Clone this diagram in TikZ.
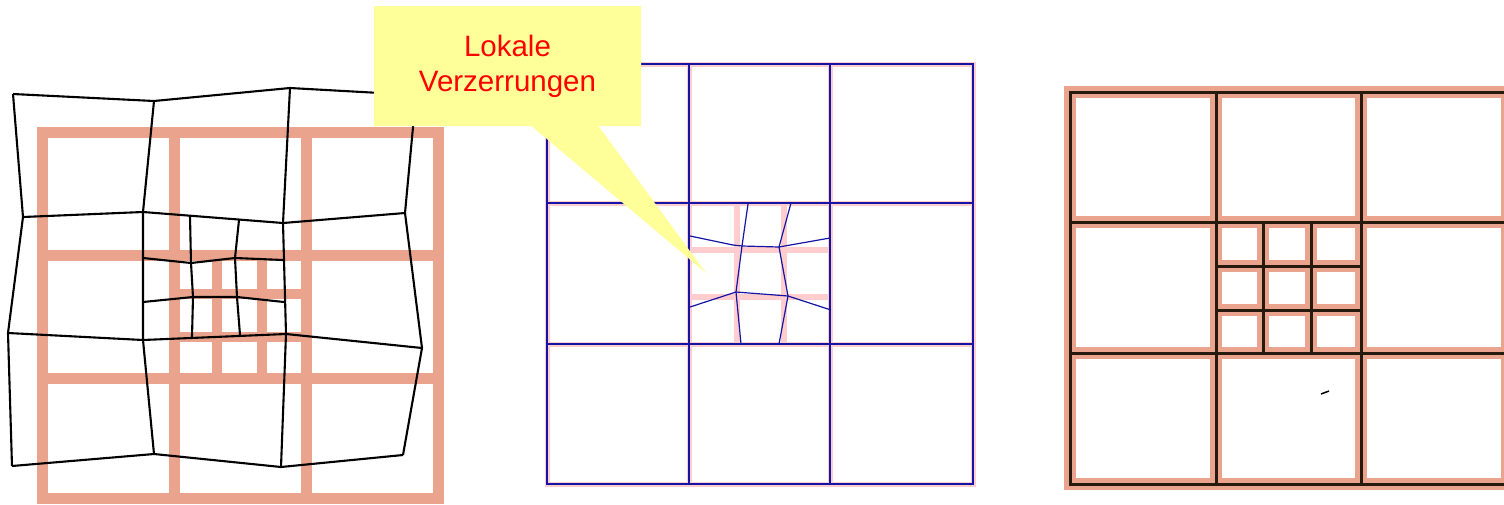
\documentclass[tikz,border=0pt]{standalone}
\usepackage{fontspec}
\setmainfont{Liberation Sans}
\usetikzlibrary{shapes.callouts}
\definecolor{lachs}{RGB}{234,164,142}
\definecolor{rosa}{RGB}{255,205,205}
\definecolor{tinte}{RGB}{20,20,165}
\definecolor{notiz}{RGB}{255,255,153}
\begin{document}
\begin{tikzpicture}
         [x=1pt, y=-1pt,
          soll/.style={draw=lachs, line width=11pt, line cap=rect},
          netz/.style={draw=black, line width=2.1pt, line join=round},
          hell/.style={draw=rosa, line width=5pt},
          blau/.style={draw=tinte, line width=1.8pt},
          fein/.style={draw=tinte, line width=1.2pt, line join=round},
          kante/.style={draw=lachs, line width=12pt, line cap=rect},
          dick/.style={draw=black!80!brown, line width=3pt}]
         \useasboundingbox (0,0) rectangle (1504,504);

         % links
         \draw[soll] (42,132) rectangle (438,498) (174,132) -- (174,498) (306,132) -- (306,498)
                     (42,255) -- (438,255) (42,378) -- (438,378);
         \draw[soll, line width=10pt] (217,255) -- (217,378) (262,255) -- (262,378)
                     (174,294) -- (306,294) (174,337) -- (306,337);

         \coordinate (p00) at (13,94);  \coordinate (p10) at (154,101); \coordinate (p20) at (290,88);  \coordinate (p30) at (416,95);
         \coordinate (p01) at (23,217); \coordinate (p11) at (143,212); \coordinate (p21) at (283,223); \coordinate (p31) at (405,213);
         \coordinate (p02) at (8,333);  \coordinate (p12) at (143,340); \coordinate (p22) at (286,334); \coordinate (p32) at (422,348);
         \coordinate (p03) at (12,466); \coordinate (p13) at (154,454); \coordinate (p23) at (281,467); \coordinate (p33) at (403,455);
         \coordinate (t1) at (190,216); \coordinate (a1) at (191,263); \coordinate (b1) at (193,297); \coordinate (u1) at (192,337);
         \coordinate (t2) at (239,220); \coordinate (a2) at (235,258); \coordinate (b2) at (237,297); \coordinate (u2) at (240,335);
         \coordinate (al) at (143,258); \coordinate (ar) at (283,260); \coordinate (bl) at (143,302); \coordinate (br) at (284,302);

         \draw[netz] (p00) -- (p10) -- (p20) -- (p30);
         \draw[netz] (p01) -- (p11) -- (p21) -- (p31);
         \draw[netz] (p02) -- (p12) -- (p22) -- (p32);
         \draw[netz] (p03) -- (p13) -- (p23) -- (p33);
         \draw[netz] (p00) -- (p01) -- (p02) -- (p03);
         \draw[netz] (p10) -- (p11) -- (p12) -- (p13);
         \draw[netz] (p20) -- (p21) -- (p22) -- (p23);
         \draw[netz] (p30) -- (p31) -- (p32) -- (p33);
         \draw[netz] (t1) -- (a1) -- (b1) -- (u1);
         \draw[netz] (t2) -- (a2) -- (b2) -- (u2);
         \draw[netz] (al) -- (a1) -- (a2) -- (ar);
         \draw[netz] (bl) -- (b1) -- (b2) -- (br);

         % mitte
         \draw[hell] (547,64) rectangle (973,484) (689,64) -- (689,484) (830,64) -- (830,484)
                     (547,203) -- (973,203) (547,344) -- (973,344);
         \draw[hell, line width=6pt] (737,203) -- (737,344) (784,203) -- (784,344)
                     (689,250) -- (830,250) (689,297) -- (830,297);
         \draw[blau] (547,64) rectangle (973,484) (689,64) -- (689,484) (830,64) -- (830,484)
                     (547,203) -- (973,203) (547,344) -- (973,344);

         \coordinate (m1) at (742,246); \coordinate (m2) at (779,247);
         \coordinate (m3) at (736,292); \coordinate (m4) at (788,296);
         \draw[fein] (748,204) -- (m1) -- (m3) -- (741,344);
         \draw[fein] (791,203) -- (m2) -- (m4) -- (779,344);
         \draw[fein] (690,236) -- (733,245) -- (m1) -- (m2) -- (830,238);
         \draw[fein] (690,307) -- (m3) -- (m4) -- (831,310);

         % rechts
         \begin{scope}
         \clip (1040,70) rectangle (1504,504);
         \draw[kante] (1070,92) rectangle (1507,484) (1216,92) -- (1216,484) (1361,92) -- (1361,484)
                      (1070,222) -- (1507,222) (1070,353) -- (1507,353)
                      (1263,222) -- (1263,353) (1311,222) -- (1311,353)
                      (1216,266) -- (1361,266) (1216,310) -- (1361,310);
         \draw[dick] (1070,92) rectangle (1507,484) (1216,92) -- (1216,484) (1361,92) -- (1361,484)
                      (1070,222) -- (1507,222) (1070,353) -- (1507,353)
                      (1263,222) -- (1263,353) (1311,222) -- (1311,353)
                      (1216,266) -- (1361,266) (1216,310) -- (1361,310);
         \end{scope}
         \draw[line width=1.5pt] (1321,394) -- (1329,391);

         \node[rectangle callout, fill=notiz, minimum width=267pt, minimum height=120pt,
               callout absolute pointer={(706,273)}, callout pointer width=67pt,
               text=red, align=center, font=\fontsize{29.5}{35}\selectfont] (lokal) at (507.5,66)
               {Lokale\\Verzerrungen};
\end{tikzpicture}
\end{document}
